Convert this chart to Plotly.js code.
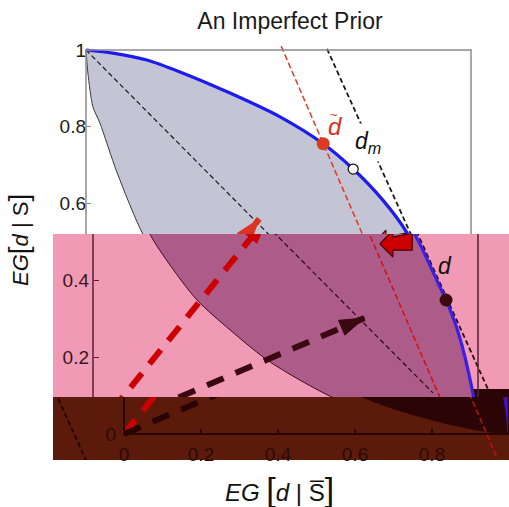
<!DOCTYPE html>
<html><head><meta charset="utf-8">
<script src="https://cdn.plot.ly/plotly-3.0.1.min.js"></script>
<style>html,body{margin:0;padding:0;background:#fff}#chart{width:509px;height:507px}</style>
</head><body><div id="chart"></div>
<script>
// ---------- data ----------
const frontierX = [0, 0.07, 0.158, 0.244, 0.374, 0.504, 0.616, 0.694, 0.771, 0.833, 0.901, 0.917, 0.95, 0.984, 0.997, 1];
const frontierY = [1, 0.992, 0.974, 0.943, 0.888, 0.826, 0.756, 0.69, 0.609, 0.525, 0.383, 0.349, 0.26, 0.12, 0.04, 0];
const lowerX = [0, 0.005, 0.018, 0.036, 0.081, 0.148, 0.2, 0.27, 0.356, 0.46, 0.621, 0.725, 0.847, 0.943, 1];
const lowerY = [1, 0.94, 0.852, 0.81, 0.68, 0.52, 0.44, 0.349, 0.271, 0.1875, 0.096, 0.058, 0.025, 0.006, 0];
const diagX = [0, 0.883], diagY = [1, 0.107];
const priorLineX = [0.507, 0.968], priorLineY = [1.01, -0.06];
const tangentX = [0.626, 1.11], tangentY = [1.003, -0.07];
const redArrowX = [0, 0.45], redArrowY = [0, 0.56];
const blackArrowX = [0, 0.705], blackArrowY = [0, 0.302];
const blockArrowX = [0.745, 0.779, 0.779, 0.829, 0.829, 0.779, 0.779, 0.745];
const blockArrowY = [0.495, 0.531, 0.513, 0.523, 0.479, 0.479, 0.461, 0.495];
const dTilde = {x: 0.616, y: 0.756};
const dM = {x: 0.694, y: 0.69};
const dPt = {x: 0.917, y: 0.349};
const yTicksTop = [0.6, 0.8, 1], yTickTextTop = ['0.6', '0.8', '1'];
const yTicksMid = [0.2, 0.4], yTickTextMid = ['0.2', '0.4'];
const yTicksLow = [0], yTickTextLow = ['0'];
const xTicks = [0, 0.2, 0.4, 0.6, 0.8, 1], xTickText = ['0', '0.2', '0.4', '0.6', '0.8', '1'];

// ---------- geometry of the glitched panel ----------
const W = 509, H = 507, X0 = 86, SX = 385, Y0 = 434, SY = 384;
const xr = s => [(0 - X0 - s) / SX, (W - X0 - s) / SX];
const ydom = (t, b) => [1 - b / H, 1 - t / H];
const yr = (t, b) => [(Y0 - b) / SY, (Y0 - t) / SY];
const FONT = 'Liberation Sans, Arial, sans-serif';

const bands = [
  {x: 'x', y: 'y', pal: {lens: '#c3c4d4', lower: '#3a3a3a', blue: '#1c1cf2', dark: '#1a1a1a', thin: '#e23a20',
    redA: '#dd3322', blackA: '#222222', block: '#dd3322', blockLine: '#3a1010', dT: '#dd3a22', dd: '#3a0a10'}},
  {x: 'x2', y: 'y2', pal: {lens: '#ad5b88', lower: '#3a1020', blue: '#3c1ee6', dark: '#2a0a12', thin: '#d21010',
    redA: '#cc0000', blackA: '#3a0810', block: '#cc0000', blockLine: '#400000', dT: '#cc2a10', dd: '#3a0a10'}},
  {x: 'x3', y: 'y3', pal: {lens: '#2b0505', lower: '#2b0505', blue: '#3a10c0', dark: '#1e0303', thin: '#c01010',
    redA: '#cc0000', blackA: '#2a0404', block: '#cc0000', blockLine: '#400000', dT: '#cc2a10', dd: '#2a0404'}}
];

const traces = [];
bands.forEach(b => {
  const p = b.pal, ax = {xaxis: b.x, yaxis: b.y, hoverinfo: 'skip', showlegend: false};
  traces.push(Object.assign({x: lowerX, y: lowerY, mode: 'lines', line: {color: p.lower, width: 1, shape: 'spline', smoothing: 0.8}}, ax));
  traces.push(Object.assign({x: frontierX, y: frontierY, mode: 'lines', fill: 'tonexty', fillcolor: p.lens,
    line: {width: 0, shape: 'spline', smoothing: 0.8}}, ax));
  traces.push(Object.assign({x: diagX, y: diagY, mode: 'lines', line: {color: p.dark, width: 1.2, dash: '5px,3px'}}, ax));
  traces.push(Object.assign({x: priorLineX, y: priorLineY, mode: 'lines', line: {color: p.thin, width: 1.5, dash: '6px,3px'}}, ax));
  traces.push(Object.assign({x: tangentX, y: tangentY, mode: 'lines', line: {color: p.dark, width: 1.8, dash: '5px,3px'}}, ax));
  traces.push(Object.assign({x: frontierX, y: frontierY, mode: 'lines', line: {color: p.blue, width: 3.2, shape: 'spline', smoothing: 0.8}}, ax));
  traces.push(Object.assign({x: redArrowX, y: redArrowY, mode: 'lines', line: {color: p.redA, width: 6, dash: '18px,12px'}}, ax));
  traces.push(Object.assign({x: redArrowX, y: redArrowY, mode: 'markers',
    marker: {symbol: 'arrow', size: [0, 26], angleref: 'previous', color: p.redA, opacity: 1, line: {color: p.redA, width: 1}}}, ax));
  traces.push(Object.assign({x: blackArrowX, y: blackArrowY, mode: 'lines', line: {color: p.blackA, width: 6, dash: '18px,13px'}}, ax));
  traces.push(Object.assign({x: blackArrowX, y: blackArrowY, mode: 'markers',
    marker: {symbol: 'arrow', size: [0, 26], angleref: 'previous', color: p.blackA, opacity: 1, line: {color: p.blackA, width: 1}}}, ax));
  traces.push(Object.assign({x: blockArrowX, y: blockArrowY, mode: 'lines', fill: 'toself', fillcolor: p.block,
    line: {color: p.blockLine, width: 1.2}}, ax));
  traces.push(Object.assign({x: [dTilde.x], y: [dTilde.y], mode: 'markers', marker: {size: 13, color: p.dT}}, ax));
  traces.push(Object.assign({x: [dM.x], y: [dM.y], mode: 'markers', marker: {size: 10, color: '#ffffff', line: {color: '#111', width: 1.2}}}, ax));
  traces.push(Object.assign({x: [dPt.x], y: [dPt.y], mode: 'markers', marker: {size: 13, color: p.dd}}, ax));
});
// wrapped copy of the tangent line in the lower strip
traces.push({x: tangentX, y: tangentY, xaxis: 'x4', yaxis: 'y3', mode: 'lines', hoverinfo: 'skip', showlegend: false,
  line: {color: '#1e0303', width: 1.8, dash: '5px,3px'}});

const hid = {visible: false, showgrid: false, zeroline: false, fixedrange: true};
const layout = {
  width: W, height: H, margin: {l: 0, r: 0, t: 0, b: 0}, paper_bgcolor: '#fff', plot_bgcolor: 'rgba(0,0,0,0)',
  showlegend: false, font: {family: FONT, color: '#222'},
  title: {text: 'An Imperfect Prior', x: 290 / W, y: 1 - 21 / H, xanchor: 'center', yanchor: 'middle', font: {size: 23, color: '#1a1a1a', family: FONT}},
  xaxis: Object.assign({domain: [0, 1], range: xr(0), anchor: 'y'}, hid),
  xaxis2: Object.assign({domain: [0, 1], range: xr(7), anchor: 'y2'}, hid),
  xaxis3: {domain: [0, 1], range: xr(38), anchor: 'free', position: 1 - 433 / H, showline: false, showgrid: false, zeroline: false,
    ticks: 'inside', ticklen: 4, tickwidth: 1.5, tickcolor: '#2a0505', tickvals: xTicks, ticktext: xTickText, ticklabelstandoff: 8,
    tickfont: {size: 19, color: '#2a0a05', family: FONT}, fixedrange: true},
  xaxis4: Object.assign({domain: [0, 1], range: xr(38 - 465), anchor: 'y3', overlaying: 'x3'}, hid),
  yaxis: {domain: ydom(0, 234), range: yr(0, 234), anchor: 'free', position: X0 / W, side: 'left', showline: false, showgrid: false, zeroline: false,
    ticks: 'inside', ticklen: 4, tickcolor: '#8a8a8a', tickvals: yTicksTop, ticktext: yTickTextTop, tickfont: {size: 19, color: '#1a1a1a', family: FONT}, fixedrange: true},
  yaxis2: {domain: ydom(234, 397), range: yr(234, 397), anchor: 'free', position: (X0 + 7) / W, side: 'left', showline: false, showgrid: false, zeroline: false,
    ticks: 'inside', ticklen: 5, tickcolor: '#5a2035', tickvals: yTicksMid, ticktext: yTickTextMid, tickfont: {size: 19, color: '#3a1520', family: FONT},
    ticklabelstandoff: 4, fixedrange: true},
  yaxis3: {domain: ydom(397, 460), range: yr(397, 460), anchor: 'free', position: (X0 + 38) / W, side: 'left', showline: false, showgrid: false, zeroline: false,
    ticks: 'outside', ticklen: 4, tickcolor: 'rgba(0,0,0,0)', tickvals: yTicksLow, ticktext: yTickTextLow, tickfont: {size: 19, color: '#2a0a05', family: FONT}, fixedrange: true},
  shapes: [
    {type: 'rect', xref: 'paper', yref: 'paper', x0: 53 / W, x1: 1, y0: 1 - 397 / H, y1: 1 - 234 / H, fillcolor: '#f19ab5', line: {width: 0}, layer: 'below'},
    {type: 'rect', xref: 'paper', yref: 'paper', x0: 53 / W, x1: 1, y0: 1 - 460 / H, y1: 1 - 397 / H, fillcolor: '#5c1a0b', line: {width: 0}, layer: 'below'},
    {type: 'rect', xref: 'paper', yref: 'paper', x0: 453 / W, x1: 1, y0: 1 - 397 / H, y1: 1 - 389 / H, fillcolor: '#2a0404', line: {width: 0}, layer: 'below'},
    {type: 'rect', xref: 'x', yref: 'y', x0: 0, x1: 1, y0: 0, y1: 1, line: {color: '#8a8a8a', width: 1.5}},
    {type: 'rect', xref: 'x2', yref: 'y2', x0: 0, x1: 1, y0: 0, y1: 1, line: {color: '#5a2035', width: 1.5}},
    {type: 'rect', xref: 'x3', yref: 'y3', x0: 0, x1: 1, y0: 0, y1: 1, line: {color: '#2a0505', width: 2}}
  ],
  annotations: [
    {xref: 'x', yref: 'y', x: dTilde.x, y: dTilde.y, xshift: 12, yshift: 17, xanchor: 'center', yanchor: 'middle', showarrow: false, text: '<i>d</i>',
      font: {size: 24, color: '#d83020', family: FONT}},
    {xref: 'x', yref: 'y', x: dTilde.x, y: dTilde.y, xshift: 11, yshift: 29, xanchor: 'center', yanchor: 'middle', showarrow: false, text: '~',
      font: {size: 13, color: '#d83020', family: FONT}},
    {xref: 'x', yref: 'y', x: dM.x, y: dM.y, xshift: 15, yshift: 27, xanchor: 'center', yanchor: 'middle', showarrow: false, text: '<i>d<sub>m</sub></i>',
      bgcolor: '#ffffff', borderpad: 4, font: {size: 23, color: '#111', family: FONT}},
    {xref: 'x2', yref: 'y2', x: dPt.x, y: dPt.y, xshift: -1, yshift: 34, xanchor: 'center', yanchor: 'middle', showarrow: false, text: '<i>d</i>',
      font: {size: 23, color: '#111', family: FONT}},
    {xref: 'paper', yref: 'paper', x: 18 / W, y: 1 - 240 / H, xanchor: 'center', yanchor: 'middle', textangle: -90, showarrow: false,
      text: '<i>EG</i><span style="font-size:28px">[</span><i>d</i> | S<span style="font-size:28px">]</span>',
      font: {size: 22, color: '#111', family: FONT}},
    {xref: 'paper', yref: 'paper', x: 279 / W, y: 1 - 489 / H, xanchor: 'center', yanchor: 'middle', showarrow: false,
      text: '<i>EG</i> <span style="font-size:34px">[</span><i>d</i> | S\u0305<span style="font-size:34px">]</span>',
      font: {size: 24, color: '#111', family: FONT}}
  ]
};
Plotly.newPlot('chart', traces, layout, {displayModeBar: false, staticPlot: true});
</script></body></html>
